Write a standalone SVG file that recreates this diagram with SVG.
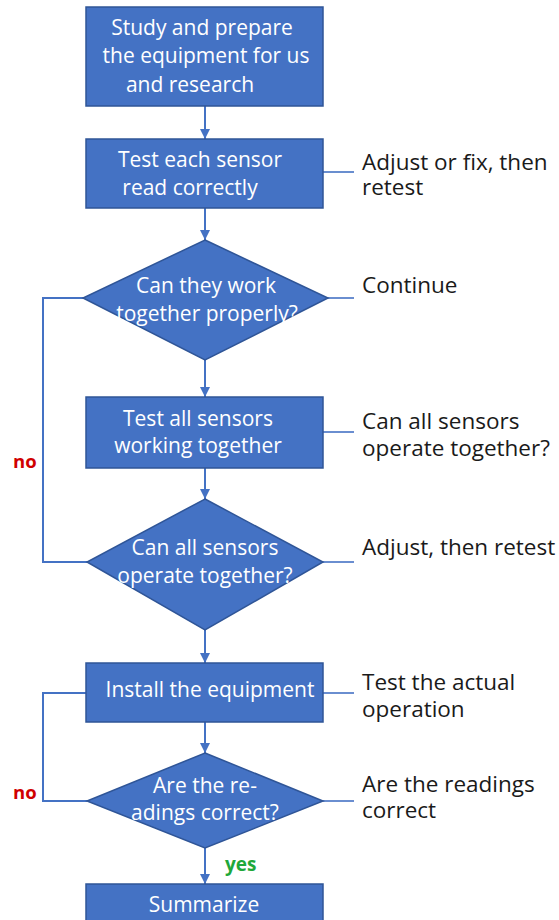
<svg xmlns="http://www.w3.org/2000/svg" width="559" height="920" viewBox="0 0 559 920">
<style>
.box{fill:#4472C4;stroke:#2F5597;stroke-width:1.5}
.bt{font-family:"Open Sans","Noto Sans",sans-serif;font-size:21px;fill:#ffffff;text-anchor:middle}
.st{font-family:"Open Sans","Noto Sans",sans-serif;font-size:22.5px;fill:#1a1a1a}
.flow{fill:none;stroke:#4472C4;stroke-width:2}
.side{fill:none;stroke:#4472C4;stroke-width:1.6}
.no{font-family:"Open Sans","Noto Sans",sans-serif;font-size:18.5px;font-weight:bold;fill:#D00000}
.yes{font-family:"Open Sans","Noto Sans",sans-serif;font-size:19px;font-weight:bold;fill:#1FA83A}
</style>
<defs>
<marker id="ah" markerUnits="userSpaceOnUse" markerWidth="10" markerHeight="10" refX="10" refY="5" orient="auto">
<path d="M0,0 L10,5 L0,10 z" fill="#4472C4"/>
</marker>
</defs>
<rect width="559" height="920" fill="#ffffff"/>
<g id="connectors">
<line class="flow" x1="205" y1="106" x2="205" y2="139" marker-end="url(#ah)"/>
<line class="flow" x1="205" y1="208" x2="205" y2="240" marker-end="url(#ah)"/>
<line class="flow" x1="205" y1="360" x2="205" y2="397" marker-end="url(#ah)"/>
<line class="flow" x1="205" y1="468" x2="205" y2="499" marker-end="url(#ah)"/>
<line class="flow" x1="205" y1="630" x2="205" y2="663" marker-end="url(#ah)"/>
<line class="flow" x1="205" y1="722" x2="205" y2="753" marker-end="url(#ah)"/>
<line class="flow" x1="205" y1="848" x2="205" y2="884" marker-end="url(#ah)"/>
<polyline class="flow" points="83,298 43,298 43,562 87,562"/>
<polyline class="flow" points="86,693 43,693 43,801 87,801"/>
<line class="side" x1="322" y1="172" x2="354" y2="172"/>
<line class="side" x1="328" y1="298" x2="354" y2="298"/>
<line class="side" x1="323" y1="432" x2="354" y2="432"/>
<line class="side" x1="323" y1="562" x2="354" y2="562"/>
<line class="side" x1="323" y1="693" x2="354" y2="693"/>
<line class="side" x1="323" y1="801" x2="354" y2="801"/>
<text class="no" x="13" y="468">no</text>
<text class="no" x="13" y="799">no</text>
<text class="yes" x="225" y="871">yes</text>
</g>
<g id="n1">
<rect class="box" x="86" y="7" width="237" height="99"/>
<text class="bt" x="202" y="35">Study and prepare</text>
<text class="bt" x="206" y="63">the equipment for us</text>
<text class="bt" x="190" y="92">and research</text>
</g>
<g id="n2">
<rect class="box" x="86" y="139" width="237" height="69"/>
<text class="bt" x="200" y="167">Test each sensor</text>
<text class="bt" x="190" y="195">read correctly</text>
</g>
<g id="d1">
<polygon class="box" points="205,240 328,298 205,360 83,298"/>
<text class="bt" x="206" y="293">Can they work</text>
<text class="bt" x="207" y="321">together properly?</text>
</g>
<g id="n3">
<rect class="box" x="86" y="397" width="237" height="71"/>
<text class="bt" x="198" y="426">Test all sensors</text>
<text class="bt" x="198" y="453">working together</text>
</g>
<g id="d2">
<polygon class="box" points="205,499 323,562 205,630 87,562"/>
<text class="bt" x="205" y="555">Can all sensors</text>
<text class="bt" x="205" y="583">operate together?</text>
</g>
<g id="n4">
<rect class="box" x="86" y="663" width="237" height="59"/>
<text class="bt" x="210" y="697">Install the equipment</text>
</g>
<g id="d3">
<polygon class="box" points="205,753 323,801 205,848 87,801"/>
<text class="bt" x="205" y="793">Are the re-</text>
<text class="bt" x="205" y="820">adings correct?</text>
</g>
<g id="n5">
<rect class="box" x="86" y="884" width="237" height="44"/>
<text class="bt" x="204" y="912">Summarize</text>
</g>
<g id="notes">
<text class="st" x="362" y="170">Adjust or fix, then</text>
<text class="st" x="362" y="195">retest</text>
<text class="st" x="362" y="293">Continue</text>
<text class="st" x="362" y="429">Can all sensors</text>
<text class="st" x="362" y="456">operate together?</text>
<text class="st" x="362" y="555">Adjust, then retest</text>
<text class="st" x="362" y="690">Test the actual</text>
<text class="st" x="362" y="717">operation</text>
<text class="st" x="362" y="792">Are the readings</text>
<text class="st" x="362" y="818">correct</text>
</g>
</svg>
